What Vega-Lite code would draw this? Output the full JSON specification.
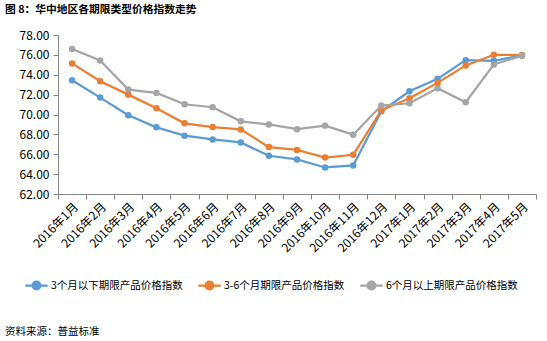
{
  "$schema": "https://vega.github.io/schema/vega-lite/v6.json",
  "padding": {"left": 5, "top": 4, "right": 12, "bottom": 4},
  "background": "white",
  "config": {
    "font": "Noto Sans CJK SC",
    "view": {"stroke": null},
    "concat": {"spacing": 0}
  },
  "title": {
    "text": "图 8：华中地区各期限类型价格指数走势",
    "anchor": "start",
    "fontSize": 10.75,
    "fontWeight": "bold",
    "color": "#000000",
    "offset": 13
  },
  "resolve": {"legend": {"color": "independent"}, "scale": {"color": "independent"}},
  "vconcat": [
    {
      "width": 478,
      "height": 159,
      "title": {
        "text": "资料来源：普益标准",
        "orient": "bottom",
        "anchor": "start",
        "frame": "bounds",
        "fontSize": 10.5,
        "fontWeight": "normal",
        "color": "#000000",
        "offset": 33
      },
      "data": {
        "values": [
          {"month": "2016年1月", "series": "3个月以下期限产品价格指数", "value": 73.45},
          {"month": "2016年2月", "series": "3个月以下期限产品价格指数", "value": 71.7},
          {"month": "2016年3月", "series": "3个月以下期限产品价格指数", "value": 69.92},
          {"month": "2016年4月", "series": "3个月以下期限产品价格指数", "value": 68.71},
          {"month": "2016年5月", "series": "3个月以下期限产品价格指数", "value": 67.87},
          {"month": "2016年6月", "series": "3个月以下期限产品价格指数", "value": 67.49},
          {"month": "2016年7月", "series": "3个月以下期限产品价格指数", "value": 67.19},
          {"month": "2016年8月", "series": "3个月以下期限产品价格指数", "value": 65.85},
          {"month": "2016年9月", "series": "3个月以下期限产品价格指数", "value": 65.48},
          {"month": "2016年10月", "series": "3个月以下期限产品价格指数", "value": 64.67},
          {"month": "2016年11月", "series": "3个月以下期限产品价格指数", "value": 64.87},
          {"month": "2016年12月", "series": "3个月以下期限产品价格指数", "value": 70.32},
          {"month": "2017年1月", "series": "3个月以下期限产品价格指数", "value": 72.34},
          {"month": "2017年2月", "series": "3个月以下期限产品价格指数", "value": 73.59},
          {"month": "2017年3月", "series": "3个月以下期限产品价格指数", "value": 75.47},
          {"month": "2017年4月", "series": "3个月以下期限产品价格指数", "value": 75.4},
          {"month": "2017年5月", "series": "3个月以下期限产品价格指数", "value": 75.95},
          {"month": "2016年1月", "series": "3-6个月期限产品价格指数", "value": 75.14},
          {"month": "2016年2月", "series": "3-6个月期限产品价格指数", "value": 73.35},
          {"month": "2016年3月", "series": "3-6个月期限产品价格指数", "value": 72.0},
          {"month": "2016年4月", "series": "3-6个月期限产品价格指数", "value": 70.63},
          {"month": "2016年5月", "series": "3-6个月期限产品价格指数", "value": 69.11},
          {"month": "2016年6月", "series": "3-6个月期限产品价格指数", "value": 68.74},
          {"month": "2016年7月", "series": "3-6个月期限产品价格指数", "value": 68.5},
          {"month": "2016年8月", "series": "3-6个月期限产品价格指数", "value": 66.72},
          {"month": "2016年9月", "series": "3-6个月期限产品价格指数", "value": 66.43},
          {"month": "2016年10月", "series": "3-6个月期限产品价格指数", "value": 65.67},
          {"month": "2016年11月", "series": "3-6个月期限产品价格指数", "value": 65.95},
          {"month": "2016年12月", "series": "3-6个月期限产品价格指数", "value": 70.42},
          {"month": "2017年1月", "series": "3-6个月期限产品价格指数", "value": 71.64},
          {"month": "2017年2月", "series": "3-6个月期限产品价格指数", "value": 73.18},
          {"month": "2017年3月", "series": "3-6个月期限产品价格指数", "value": 74.94},
          {"month": "2017年4月", "series": "3-6个月期限产品价格指数", "value": 76.01},
          {"month": "2017年5月", "series": "3-6个月期限产品价格指数", "value": 75.98},
          {"month": "2016年1月", "series": "6个月以上期限产品价格指数", "value": 76.59},
          {"month": "2016年2月", "series": "6个月以上期限产品价格指数", "value": 75.44},
          {"month": "2016年3月", "series": "6个月以上期限产品价格指数", "value": 72.51},
          {"month": "2016年4月", "series": "6个月以上期限产品价格指数", "value": 72.17},
          {"month": "2016年5月", "series": "6个月以上期限产品价格指数", "value": 71.03},
          {"month": "2016年6月", "series": "6个月以上期限产品价格指数", "value": 70.73},
          {"month": "2016年7月", "series": "6个月以上期限产品价格指数", "value": 69.31},
          {"month": "2016年8月", "series": "6个月以上期限产品价格指数", "value": 69.0},
          {"month": "2016年9月", "series": "6个月以上期限产品价格指数", "value": 68.52},
          {"month": "2016年10月", "series": "6个月以上期限产品价格指数", "value": 68.88},
          {"month": "2016年11月", "series": "6个月以上期限产品价格指数", "value": 67.97},
          {"month": "2016年12月", "series": "6个月以上期限产品价格指数", "value": 70.9},
          {"month": "2017年1月", "series": "6个月以上期限产品价格指数", "value": 71.13},
          {"month": "2017年2月", "series": "6个月以上期限产品价格指数", "value": 72.65},
          {"month": "2017年3月", "series": "6个月以上期限产品价格指数", "value": 71.23},
          {"month": "2017年4月", "series": "6个月以上期限产品价格指数", "value": 75.04},
          {"month": "2017年5月", "series": "6个月以上期限产品价格指数", "value": 75.92}
        ]
      },
      "encoding": {
        "x": {
          "field": "month",
          "type": "ordinal",
          "sort": null,
          "scale": {"type": "band", "paddingInner": 0, "paddingOuter": 0},
          "bandPosition": 0.5,
          "axis": {
            "title": null,
            "labelAngle": -45,
            "labelFontSize": 12,
            "labelColor": "#000000",
            "tickBand": "extent",
            "domainColor": "#868686",
            "tickColor": "#868686",
            "tickSize": 5,
            "labelPadding": 2
          }
        },
        "y": {
          "field": "value",
          "type": "quantitative",
          "scale": {"domain": [62, 78], "nice": false, "zero": false},
          "axis": {
            "title": null,
            "values": [62, 64, 66, 68, 70, 72, 74, 76, 78],
            "format": ".2f",
            "grid": false,
            "labelFontSize": 12,
            "labelColor": "#000000",
            "domainColor": "#868686",
            "tickColor": "#868686",
            "tickSize": 5,
            "labelPadding": 4,
            "minExtent": 53
          }
        },
        "color": {
          "field": "series",
          "type": "nominal",
          "sort": ["3个月以下期限产品价格指数", "3-6个月期限产品价格指数", "6个月以上期限产品价格指数"],
          "scale": {
            "domain": ["3个月以下期限产品价格指数", "3-6个月期限产品价格指数", "6个月以上期限产品价格指数"],
            "range": ["#5B9BD5", "#ED7D31", "#A5A5A5"]
          },
          "legend": {
            "title": null,
            "orient": "none",
            "legendX": -34,
            "legendY": 238,
            "direction": "horizontal",
            "labelFontSize": 10.5,
            "labelColor": "#000000",
            "symbolType": "M-1,0L1,0M0.35,0A0.35,0.35,0,1,1,-0.35,0A0.35,0.35,0,1,1,0.35,0Z",
            "symbolSize": 500,
            "symbolStrokeWidth": 2.25,
            "columnPadding": 10,
            "labelOffset": 2
          }
        }
      },
      "layer": [
        {"mark": {"type": "line", "strokeWidth": 2.25}},
        {"mark": {"type": "point", "filled": true, "size": 42, "opacity": 1}}
      ]
    }
  ]
}
